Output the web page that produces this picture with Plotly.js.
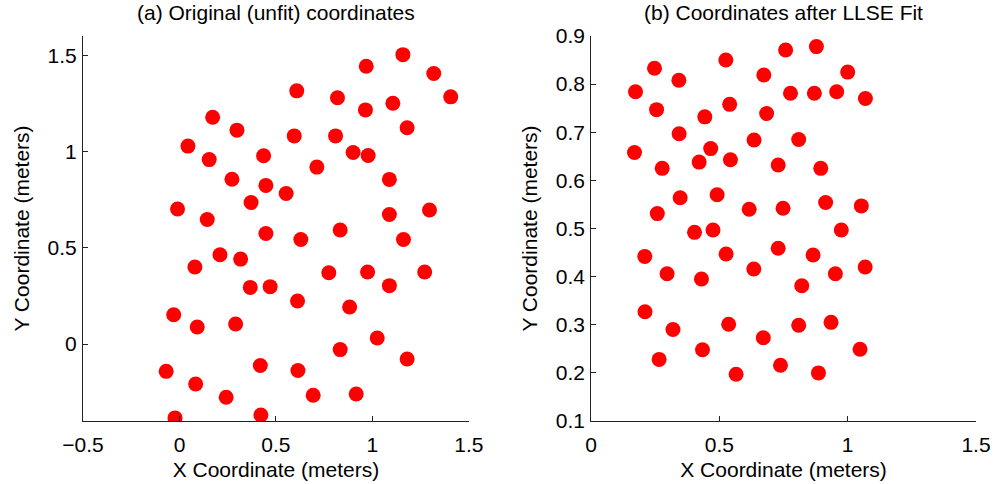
<!DOCTYPE html>
<html>
<head>
<meta charset="utf-8">
<script src="https://cdn.plot.ly/plotly-3.0.1.min.js"></script>
<style>html,body{margin:0;padding:0;background:#fff;}#chart{width:994px;height:484px;}</style>
</head>
<body>
<div id="chart"></div>
<script>
// (a) Original (unfit) coordinates
const origX = [1.158,0.968,1.318,0.608,0.819,1.406,1.106,0.964,0.172,0.298,1.180,0.595,0.809,0.044,0.154,0.436,0.900,0.978,0.712,0.272,1.088,0.448,0.553,0.371,-0.010,0.144,1.088,1.296,0.448,0.833,0.629,1.161,0.210,0.317,0.080,0.774,0.975,1.271,0.367,0.470,1.088,0.612,0.882,-0.030,0.092,0.291,1.025,0.833,1.180,-0.069,0.419,0.614,0.084,0.242,0.693,0.916,-0.023,0.422];
const origY = [1.503,1.443,1.405,1.315,1.279,1.284,1.251,1.216,1.178,1.111,1.123,1.081,1.081,1.028,0.958,0.978,0.995,0.979,0.919,0.856,0.855,0.824,0.782,0.735,0.701,0.647,0.673,0.696,0.574,0.592,0.543,0.543,0.464,0.441,0.400,0.370,0.374,0.374,0.294,0.298,0.303,0.223,0.192,0.152,0.088,0.104,0.031,-0.029,-0.078,-0.142,-0.112,-0.138,-0.208,-0.277,-0.266,-0.260,-0.384,-0.369];
// (b) Coordinates after LLSE Fit
const fitX = [0.878,0.758,0.525,0.247,1.000,0.673,0.342,0.173,0.777,0.870,0.957,1.069,0.255,0.540,0.443,0.684,0.343,0.635,0.809,0.169,0.466,0.421,0.543,0.277,0.729,0.895,0.347,0.491,0.258,0.616,0.748,0.914,1.053,0.403,0.475,0.975,0.209,0.526,0.729,0.865,0.296,0.430,0.634,0.952,1.068,0.821,0.210,0.319,0.536,0.809,0.935,0.671,0.434,1.048,0.265,0.738,0.565,0.886];
const fitY = [0.878,0.871,0.850,0.833,0.825,0.819,0.808,0.784,0.781,0.781,0.784,0.770,0.747,0.758,0.732,0.739,0.697,0.684,0.685,0.658,0.666,0.638,0.643,0.625,0.632,0.625,0.564,0.570,0.531,0.540,0.542,0.554,0.547,0.492,0.497,0.497,0.442,0.447,0.459,0.445,0.406,0.395,0.416,0.406,0.420,0.381,0.327,0.290,0.301,0.299,0.305,0.273,0.248,0.249,0.228,0.216,0.197,0.200];

const titleA = "(a) Original (unfit) coordinates";
const titleB = "(b) Coordinates after LLSE Fit";
const xTitle = "X Coordinate (meters)";
const yTitle = "Y Coordinate (meters)";
const xTicksA = [-0.5, 0, 0.5, 1, 1.5];
const yTicksA = [0, 0.5, 1, 1.5];
const xTicksB = [0, 0.5, 1, 1.5];
const yTicksB = [0.1, 0.2, 0.3, 0.4, 0.5, 0.6, 0.7, 0.8, 0.9];

const FONT = "Liberation Sans, Arial, Helvetica, sans-serif";
const FS = 21;
const marker = {color: "#ff0000", size: 15, line: {width: 0}};

const traces = [
  {x: origX, y: origY, type: "scatter", mode: "markers", marker: marker, xaxis: "x", yaxis: "y", hoverinfo: "x+y"},
  {x: fitX, y: fitY, type: "scatter", mode: "markers", marker: marker, xaxis: "x2", yaxis: "y2", hoverinfo: "x+y"}
];

function axis(range, ticks, domain, titleText, standoff, extra) {
  return Object.assign({
    range: range, domain: domain, tickmode: "array", tickvals: ticks,
    ticktext: ticks.map(v => (v < 0 ? "\u2212" + Math.abs(v) : String(v))),
    showgrid: false, zeroline: false, showline: true, linecolor: "#222", linewidth: 1,
    ticks: "inside", ticklen: 5, tickcolor: "#222", tickwidth: 1,
    tickfont: {family: FONT, size: FS, color: "#000"},
    title: {text: titleText, standoff: standoff, font: {family: FONT, size: FS, color: "#000"}},
    fixedrange: true
  }, extra || {});
}

const L = 82.7, R = 18, T = 36, B = 63.3;
const W = 994 - L - R;
const dA = [0, 386 / W];
const dB = [(591 - L) / W, 1];

const layout = {
  width: 994, height: 484,
  margin: {l: L, r: R, t: T, b: B, pad: 0},
  paper_bgcolor: "#fff", plot_bgcolor: "#fff",
  showlegend: false,
  font: {family: FONT, color: "#000"},
  xaxis: axis([-0.5, 1.5], xTicksA, dA, xTitle, 7, {anchor: "y", ticklabelstandoff: 5}),
  yaxis: axis([-0.4, 1.6], yTicksA, [0, 1], yTitle, 12, {anchor: "x", ticklabelstandoff: 1}),
  xaxis2: axis([0, 1.5], xTicksB, dB, xTitle, 7, {anchor: "y2", ticklabelstandoff: 5}),
  yaxis2: axis([0.1, 0.9], yTicksB, [0, 1], yTitle, 12, {anchor: "x2", ticklabelstandoff: 1}),
  annotations: [
    {text: titleA, xref: "x domain", yref: "paper", x: 0.5, y: 1, yanchor: "bottom", yshift: 10, showarrow: false, font: {family: FONT, size: FS, color: "#000"}},
    {text: titleB, xref: "x2 domain", yref: "paper", x: 0.5, y: 1, yanchor: "bottom", yshift: 10, showarrow: false, font: {family: FONT, size: FS, color: "#000"}}
  ]
};

Plotly.newPlot("chart", traces, layout, {staticPlot: true, displayModeBar: false});
</script>
</body>
</html>
